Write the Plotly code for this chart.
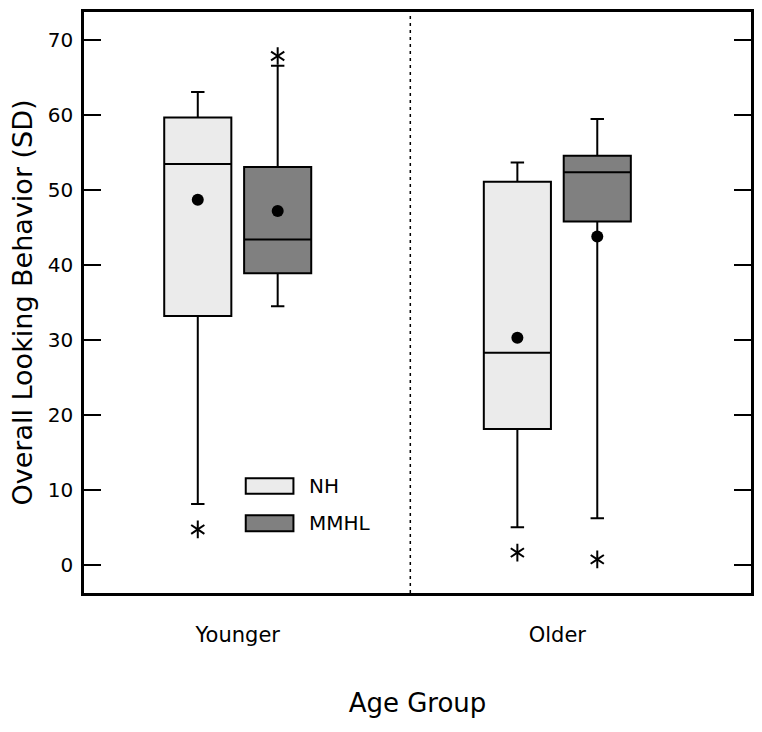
import numpy as np
import plotly.graph_objects as go

# ---------------- data ----------------
groups = ["Younger", "Older"]
series = ["NH", "MMHL"]

nh_q1 = [33.2, 18.1]
nh_median = [53.5, 28.3]
nh_q3 = [59.7, 51.1]
nh_low = [8.1, 5.0]
nh_high = [63.1, 53.7]
nh_mean = [48.7, 30.3]
nh_outlier = [4.7, 1.6]

mmhl_q1 = [38.9, 45.8]
mmhl_median = [43.4, 52.4]
mmhl_q3 = [53.1, 54.6]
mmhl_low = [34.5, 6.2]
mmhl_high = [66.6, 59.5]
mmhl_mean = [47.2, 43.8]
mmhl_outlier = [67.9, 0.7]

y_ticks = [0, 10, 20, 30, 40, 50, 60, 70]

# ---------------- styles ----------------
FONT = "DejaVu Sans"
fills = {"NH": "#ebebeb", "MMHL": "#808080"}
offsets = {"NH": -0.125, "MMHL": 0.125}
stats = {
    "NH": dict(q1=nh_q1, median=nh_median, q3=nh_q3, low=nh_low, high=nh_high,
               mean=nh_mean, out=nh_outlier),
    "MMHL": dict(q1=mmhl_q1, median=mmhl_median, q3=mmhl_q3, low=mmhl_low,
                 high=mmhl_high, mean=mmhl_mean, out=mmhl_outlier),
}

group_pos = np.arange(len(groups))

fig = go.Figure()
for s in series:
    d = stats[s]
    xs = group_pos + offsets[s]
    fig.add_trace(go.Box(
        x=xs, q1=d["q1"], median=d["median"], q3=d["q3"],
        lowerfence=d["low"], upperfence=d["high"],
        width=0.21, whiskerwidth=0.2, fillcolor=fills[s],
        line=dict(color="black", width=2), boxpoints=False,
        name=s, showlegend=False, hoverinfo="skip",
    ))
    fig.add_trace(go.Scatter(
        x=xs, y=d["mean"], mode="markers",
        marker=dict(symbol="circle", size=12, color="black"),
        showlegend=False, hoverinfo="skip",
    ))
    for sym in ["y-up-open", "y-down-open"]:
        fig.add_trace(go.Scatter(
            x=xs, y=d["out"], mode="markers",
            marker=dict(symbol=sym, size=11, color="black",
                        line=dict(color="black", width=2)),
            showlegend=False, hoverinfo="skip",
        ))

# divider between age groups
fig.add_shape(type="line", xref="x", yref="paper", x0=0.54, x1=0.54, y0=0, y1=1,
              line=dict(color="black", width=1.5, dash="3px,4px"))

# manual legend
leg_x0, leg_x1 = 0.2425, 0.314
leg_rows = {"NH": (0.1707, 0.1975), "MMHL": (0.1062, 0.1337)}
for s in series:
    y0, y1 = leg_rows[s]
    fig.add_shape(type="rect", xref="paper", yref="paper",
                  x0=leg_x0, x1=leg_x1, y0=y0, y1=y1,
                  fillcolor=fills[s], line=dict(color="black", width=2))
    fig.add_annotation(xref="paper", yref="paper", x=0.335, y=(y0 + y1) / 2,
                       text=s, showarrow=False, xanchor="left", yanchor="middle",
                       font=dict(family=FONT, size=20, color="black"))

fig.update_layout(
    width=762, height=732,
    margin=dict(l=84, r=11, t=12, b=139, autoexpand=False),
    paper_bgcolor="white", plot_bgcolor="white",
    font=dict(family=FONT, color="black"),
    showlegend=False,
)
fig.update_xaxes(
    range=[-0.481, 1.606], tickvals=group_pos, ticktext=groups,
    showline=True, linecolor="black", linewidth=2.5, mirror=True,
    ticks="", showgrid=False, zeroline=False, automargin=False,
    tickfont=dict(family=FONT, size=21), ticklabelstandoff=21,
    title=dict(text="Age Group", font=dict(family=FONT, size=26), standoff=48),
)
fig.update_yaxes(
    range=[-3.79, 73.78], tickvals=y_ticks,
    showline=True, linecolor="black", linewidth=2.5, mirror="ticks",
    ticks="inside", ticklen=17, tickwidth=2, tickcolor="black",
    showgrid=False, zeroline=False, automargin=False,
    tickfont=dict(family=FONT, size=20), ticklabelstandoff=4,
    title=dict(text="Overall Looking Behavior (SD)", font=dict(family=FONT, size=27), standoff=8),
)

fig.write_html("out.html", config={"displayModeBar": False},
               post_script="document.body.style.margin='0px';")
